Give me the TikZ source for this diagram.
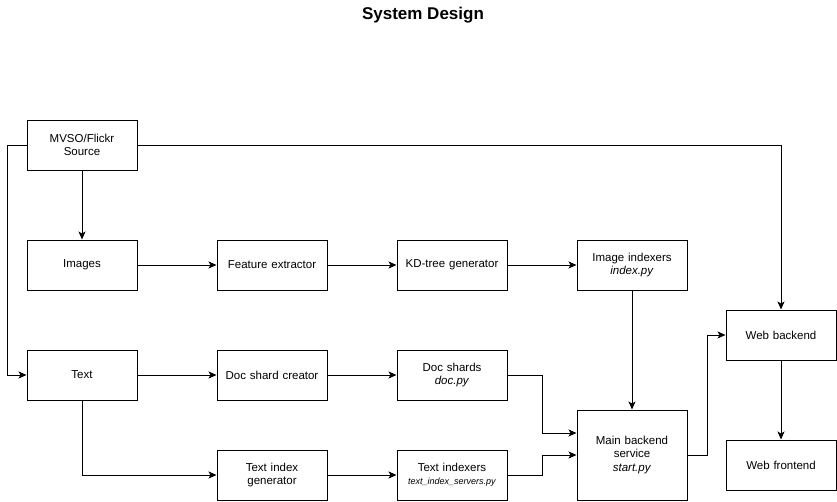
\documentclass[tikz,border=0pt]{standalone}
\usepackage{fontspec}
\setmainfont{Liberation Sans}
\usetikzlibrary{shapes,arrows,arrows.meta,positioning}

\begin{document}
\begin{tikzpicture}[x=1pt, y=-1pt, node distance=69pt, auto]
    \tikzstyle{block} = [rectangle, draw, line width=1pt, text width=106pt, align=center, minimum width=110pt, minimum height=50pt, inner sep=0pt, font=\fontsize{11.5}{13.5}\selectfont]
    \tikzstyle{line} = [draw, -{Stealth[length=8pt,width=7pt,inset=2pt]}, line width=1pt]
    \useasboundingbox (0,0) rectangle (837,501);

    \node [font=\bfseries\fontsize{17}{19}\selectfont] (title) at (423,15) {System Design};

    \node [block] (source) at (82,145) {MVSO/Flickr\\Source};
    \node [block] (images) at (82,265) {Images};
    \node [block] (feature) at (272,265) {Feature extractor};
    \node [block, right=of feature] (kdtree) {KD-tree generator};
    \node [block, right=of kdtree] (imgidx) {Image indexers\\\textit{index.py}};
    \node [block] (text) at (82,375) {Text};
    \node [block] (shardcreator) at (272,375) {Doc shard creator};
    \node [block, right=of shardcreator] (shards) {Doc shards\\\textit{doc.py}};
    \node [block] (txtgen) at (272,475) {Text index\\generator};
    \node [block, right=of txtgen] (txtidx) {Text indexers\\{\fontsize{9}{11}\selectfont\textit{text\_index\_servers.py}}};
    \node [block, minimum height=90pt] (main) at (632,455) {Main backend\\service\\\textit{start.py}};
    \node [block] (webback) at (781,335) {Web backend};
    \node [block] (webfront) at (781,465) {Web frontend};

    \path [line] (source) -- (images);
    \path [line] (images) -- (feature);
    \path [line] (feature) -- (kdtree);
    \path [line] (kdtree) -- (imgidx);
    \path [line] (imgidx.south) -- (imgidx.south |- main.north);
    \path [line] (source.west) -- ++(-19,0) |- (text.west);
    \path [line] (source.east) -| (webback.north);
    \path [line] (text) -- (shardcreator);
    \path [line] (shardcreator) -- (shards);
    \path [line] (text.south) |- (txtgen.west);
    \path [line] (txtgen) -- (txtidx);
    \path [line] (shards.east) -- ++(35,0) |- ([yshift=22pt]main.west);
    \path [line] (txtidx.east) -- ++(35,0) |- (main.west);
    \path [line] (main.east) -- ++(20,0) |- (webback.west);
    \path [line] (webback) -- (webfront);
\end{tikzpicture}
\end{document}
